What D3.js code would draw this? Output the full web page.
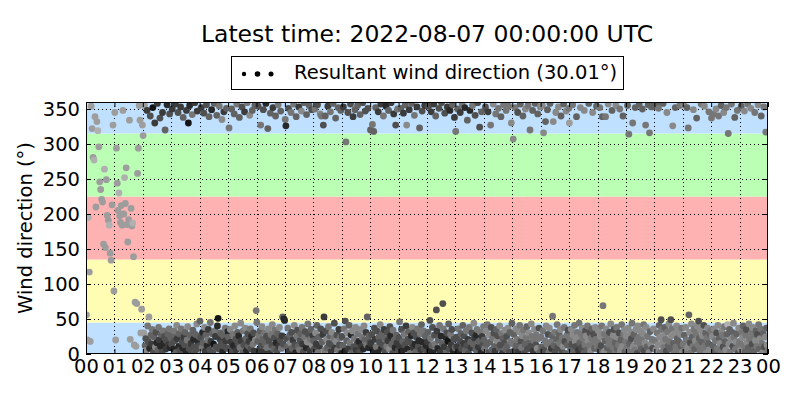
<!DOCTYPE html>
<html><head><meta charset="utf-8">
<script src="https://cdn.jsdelivr.net/npm/d3@7"></script>
<style>body{margin:0;background:#fff} svg{font-family:"DejaVu Sans",sans-serif}</style>
</head><body><svg id="c" width="800" height="400"></svg>
<script>
const titleText = "Latest time: 2022-08-07 00:00:00 UTC";
const legendLabel = "Resultant wind direction (30.01°)";
const yLabel = "Wind direction (°)";
const hourTicks = d3.range(0, 25);
const hourLabels = ["00","01","02","03","04","05","06","07","08","09","10","11","12","13","14","15","16","17","18","19","20","21","22","23","00"];
const yTicks = [0, 50, 100, 150, 200, 250, 300, 350];
const bandEdges = [0, 45, 135, 225, 315, 360];

// wind direction samples per hour (evenly spaced in time within each hour)
const dirByHour = [
[56,20,195,117,18,354,322,281,277,339,210,332,319,296,246,235,221,217,157,264,152,249,198,191,184,144,134,213,327,90],
[345,20,294,244,205,230,197,188,212,184,348,200,252,215,266,185,160,192,334,21,208,183,187,139,13,74,11,72,258,294,355,334,30,64,327],
[312,30,355,12,22,5,348,40,18,53,8,340,27,14,35,352,3,24,330,10,31,16,358,6,38,20,337,11,28,2,345,33,15,25,320,7,19,356,29,13,36,343,9,23],
[14,350,26,7,33,19,357,2,41,22,345,11,29,5,353,36,17,9,338,24,13,31,4,348,20,39,330,8,355,27,15,1,342,34,21,10,359,28,6,43,347,18,25,12],
[47,23,352,9,31,16,344,38,4,27,356,12,20,35,339,6,45,18,349,29,2,14,358,33,25,10,341,40,51,7,354,21,30,15,335,3,26,346,11,37,19,351,8,32],
[24,323,8,35,17,350,3,28,12,343,40,21,6,357,31,15,26,338,9,44,19,353,2,33,13,346,37,22,5,359,29,11,18,341,36,7,25,348,14,30,4,355,20,62],
[45,18,354,27,6,33,327,12,39,21,349,3,30,15,358,25,9,322,36,19,1,344,28,13,42,352,7,23,34,340,16,4,29,356,11,38,20,347,8,26,53,14,50,48],
[335,326,22,10,37,351,4,27,16,345,31,8,20,357,41,13,2,339,25,34,11,353,6,19,29,347,38,14,3,359,24,32,9,342,17,43,28,355,5,21,35,349,12,26],
[19,7,350,30,14,41,356,2,24,11,343,36,340,17,28,327,53,5,340,33,21,9,354,39,15,26,346,3,31,12,358,22,44,8,337,18,27,6,352,35,13,23,348,1],
[25,12,353,36,4,47,303,19,30,345,8,41,16,357,27,2,33,339,10,22,349,38,6,14,355,29,18,3,342,35,11,24,359,7,40,20,347,31,13,53,351,9,26,17],
[320,15,28,328,6,318,37,21,352,10,33,2,346,24,17,42,357,8,29,13,340,35,4,22,354,11,31,19,348,7,39,26,359,14,1,34,343,20,9,327,27,16,350,5],
[23,46,10,351,35,4,18,344,28,13,356,40,327,7,21,32,349,1,16,26,358,38,9,30,341,14,3,24,353,36,11,19,323,29,6,42,347,17,33,8,355,25,12,2],
[17,31,354,5,48,22,346,12,38,2,357,27,14,340,63,33,8,20,351,41,3,26,359,15,72,36,10,344,24,1,30,353,18,43,7,348,28,13,35,356,4,21,338,9],
[318,24,11,350,36,3,19,345,29,8,357,41,15,26,352,5,33,12,334,21,1,38,348,17,9,30,355,14,44,23,341,6,27,35,359,10,18,324,31,2,346,25,13,39],
[20,8,353,33,14,42,346,2,27,17,327,38,6,23,357,30,11,4,343,35,19,26,351,9,40,13,339,29,1,22,356,16,34,7,348,25,12,37,354,3,31,18,330,44],
[15,307,28,5,352,36,12,21,345,3,32,41,357,18,9,26,340,34,1,14,350,23,39,7,355,30,16,320,11,43,25,348,4,19,35,358,13,27,8,343,22,37,2,353],
[24,10,355,33,316,6,19,332,40,14,349,28,2,37,358,17,8,26,54,332,12,31,3,345,21,42,9,353,29,15,35,340,5,23,11,357,38,18,1,347,27,13,34,351],
[330,20,7,35,14,356,27,3,41,18,11,339,31,24,5,44,16,352,29,9,37,22,1,348,13,33,26,6,40,19,358,12,30,4,23,36,345,15,28,8,38,21,354,10],
[17,33,6,352,25,12,40,339,69,2,29,19,339,36,9,23,357,14,31,4,43,21,348,10,27,35,1,16,355,38,8,24,13,30,350,5,20,42,11,340,28,34,3,18],
[26,9,355,37,314,15,3,31,22,44,330,11,28,6,352,35,18,1,40,24,357,13,33,7,20,350,29,42,4,16,327,38,10,25,356,2,316,32,14,353,21,8,36,358],
[354,19,6,357,30,13,351,41,24,2,49,35,16,358,9,27,38,21,4,345,32,12,43,18,7,49,26,36,326,15,1,29,352,10,40,22,5,33,17,355,28,11,37,3],
[14,356,27,5,38,20,352,9,323,56,31,16,2,43,24,11,349,35,7,19,29,337,40,13,47,22,4,34,357,17,26,8,41,354,12,30,1,23,37,15,346,6,28,33],
[337,25,12,343,36,4,19,350,30,8,41,340,22,15,2,355,33,27,10,345,39,18,6,352,28,42,315,14,35,3,21,357,31,11,44,24,338,7,17,29,348,1,37,13],
[18,6,354,31,23,40,12,347,3,27,35,16,357,9,43,21,1,351,30,14,38,25,5,345,19,33,11,28,356,42,7,22,36,340,15,2,29,353,10,24,317,37,13,4]
];

// wind speed level per sample (drives the gray shade)
const spdByHour = [
[2,2,1,2,2,2,2,2,1,2,2,2,1,2,2,2,2,2,2,1,2,2,2,2,1,2,2,2,2,2],
[2,2,2,2,2,1,2,2,2,2,2,2,1,2,2,2,2,2,2,2,2,2,1,2,2,2,2,2,2,2,2,2,2,2,2],
[2,2,2,5,6,3,7,4,6,2,8,6,5,7,4,9,6,5,7,3,6,8,7,5,4,7,6,8,5,6,7,4,8,6,5,7,6,8,5,7,4,6,8,5],
[6,7,5,8,4,6,7,5,3,7,6,8,5,6,7,4,6,8,5,7,6,5,8,7,4,3,9,6,8,5,7,6,4,5,8,6,7,5,6,3,7,8,5,6],
[5,6,7,4,8,5,6,3,7,5,6,8,4,7,5,6,4,7,8,5,6,9,5,4,7,6,5,8,9,6,4,7,5,6,3,8,5,7,6,4,7,5,6,8],
[5,4,6,3,7,5,6,4,8,5,3,6,7,4,5,6,8,5,4,3,7,6,5,4,6,7,3,5,8,4,6,5,7,3,4,6,8,5,4,6,7,5,3,4],
[4,5,6,4,7,5,4,6,3,5,6,7,4,5,8,6,4,5,3,6,7,5,4,6,3,7,5,6,4,5,8,6,5,4,7,3,6,5,4,7,5,6,8,8],
[4,8,6,5,4,6,7,5,3,4,6,5,7,4,3,6,8,5,4,6,5,7,4,6,5,3,4,7,6,5,4,6,8,5,3,4,6,5,7,4,5,6,3,7],
[5,6,4,3,7,5,6,4,5,7,3,6,4,5,7,6,7,4,5,6,3,5,7,4,6,5,4,7,3,6,5,4,6,7,5,3,6,4,5,7,6,4,5,8],
[6,5,7,4,8,6,4,5,3,6,7,5,4,6,8,5,3,7,6,4,5,3,7,6,5,4,8,6,5,3,7,4,6,8,3,5,6,7,4,5,6,8,5,6],
[5,7,6,4,8,5,6,7,5,4,6,8,7,5,6,3,7,8,5,6,4,7,6,5,8,4,6,7,5,3,6,8,7,5,6,4,7,5,8,6,5,7,4,6],
[6,4,7,5,6,8,5,7,4,6,5,7,3,8,6,5,7,4,6,8,5,3,7,6,4,8,5,6,7,4,6,8,5,4,7,5,6,8,4,6,7,5,8,6],
[7,5,6,8,6,4,7,5,6,8,7,6,4,5,6,7,8,5,6,4,7,8,6,5,6,4,7,6,8,5,6,7,9,5,6,8,4,7,6,5,8,6,7,5],
[4,6,7,5,4,8,6,7,5,6,4,5,7,6,8,5,4,6,5,7,6,4,8,5,7,6,4,5,3,7,6,5,8,4,6,7,5,6,4,8,5,7,6,4],
[5,4,6,3,5,4,7,6,3,5,4,6,5,4,3,6,5,7,4,5,3,6,4,5,3,6,5,4,7,5,4,6,3,5,4,6,5,3,4,6,5,4,3,5],
[4,3,5,6,4,3,5,4,6,7,3,4,5,6,4,3,5,4,6,5,3,4,5,6,4,3,5,4,6,3,4,5,7,4,3,5,6,4,3,5,4,6,5,3],
[4,5,3,4,3,6,4,5,3,4,5,6,4,3,5,4,7,5,4,3,5,4,6,3,5,4,6,3,5,4,3,5,6,4,3,5,4,6,5,3,4,5,6,4],
[2,4,5,3,6,4,3,5,4,3,6,5,4,3,7,4,5,3,4,6,3,4,5,3,4,6,3,5,4,3,5,4,6,3,4,5,3,4,6,5,3,4,5,4],
[4,3,5,4,3,6,4,5,4,3,4,5,4,3,5,4,3,4,6,5,3,4,5,4,3,6,4,5,3,4,5,3,4,6,4,3,5,4,3,5,4,3,5,4],
[3,4,5,3,4,5,4,3,6,4,4,3,5,4,5,3,4,6,3,4,5,4,3,5,4,5,3,4,6,3,4,3,5,4,5,3,4,5,3,5,4,6,3,5],
[5,4,3,5,4,3,4,5,3,4,6,4,3,5,4,3,5,4,6,3,4,5,3,4,5,6,3,4,3,5,4,3,5,4,3,5,4,3,5,4,3,5,4,3],
[4,3,5,4,3,4,5,3,4,5,3,6,4,3,5,4,3,4,5,3,4,5,3,4,6,5,4,3,4,5,3,4,6,3,4,5,3,4,3,5,4,3,5,4],
[4,3,5,4,3,5,4,3,6,4,3,4,5,3,4,5,3,4,6,3,4,5,3,4,5,1,4,3,5,4,3,4,5,6,3,4,5,4,3,5,4,6,3,4],
[4,3,5,4,3,5,4,3,5,4,6,3,4,5,3,4,5,3,4,6,3,4,5,4,3,5,4,6,3,4,5,3,4,5,4,3,5,4,6,3,4,5,3,4]
];

const svg = d3.select("#c");
const L = 86, R = 768, T = 102, B = 354;
const x = d3.scaleLinear().domain([0, 24]).range([L, R]);
const y = d3.scaleLinear().domain([0, 360]).range([B, T]);
const bandColors = ["#bfe0ff", "#fffcb4", "#ffb2b2", "#baffb4", "#bfe0ff"];
const shade = d3.scaleLinear().domain([1, 9]).range(["#b0b0b0", "#141414"]);

// bands
svg.append("g").selectAll("rect").data(d3.range(bandEdges.length - 1)).join("rect")
  .attr("x", L).attr("width", R - L)
  .attr("y", i => y(bandEdges[i + 1])).attr("height", i => y(bandEdges[i]) - y(bandEdges[i + 1]))
  .attr("fill", i => bandColors[i]);

// grid
const grid = svg.append("g").attr("stroke", "#000").attr("stroke-width", 1).attr("stroke-dasharray", "1,3");
grid.selectAll(".gx").data(hourTicks.slice(1, -1)).join("line")
  .attr("x1", d => Math.round(x(d)) + 0.5).attr("x2", d => Math.round(x(d)) + 0.5).attr("y1", T).attr("y2", B);
grid.selectAll(".gy").data(yTicks.slice(1)).join("line")
  .attr("y1", d => Math.round(y(d)) + 0.5).attr("y2", d => Math.round(y(d)) + 0.5).attr("x1", L).attr("x2", R);

// points
const pts = [];
dirByHour.forEach((arr, h) => {
  const n = arr.length;
  arr.forEach((d, i) => pts.push({ t: h + (i + 0.5) / n, d: d, s: (spdByHour[h][i] ?? 4) }));
});
svg.append("clipPath").attr("id", "clip").append("rect").attr("x", L).attr("y", T).attr("width", R - L).attr("height", B - T);
svg.append("g").attr("clip-path", "url(#clip)").selectAll("circle").data(pts).join("circle")
  .attr("cx", p => x(p.t)).attr("cy", p => y(p.d)).attr("r", 3.4)
  .attr("fill", p => shade(p.s));

// frame
svg.append("rect").attr("x", L + 0.5).attr("y", T + 0.5).attr("width", R - L - 1).attr("height", B - T - 1)
  .attr("fill", "none").attr("stroke", "#000").attr("stroke-width", 1);

// axes
const fs = "19.5px";
const ax = svg.append("g").attr("transform", `translate(0,${B})`)
  .call(d3.axisBottom(x).tickValues(hourTicks).tickFormat((d, i) => hourLabels[i]).tickSize(-5).tickPadding(5));
const ay = svg.append("g").attr("transform", `translate(${L},0)`)
  .call(d3.axisLeft(y).tickValues(yTicks).tickSize(-5).tickPadding(6));
const at = svg.append("g").attr("transform", `translate(0,${T})`)
  .call(d3.axisTop(x).tickValues(hourTicks).tickFormat("").tickSize(-5));
const ar = svg.append("g").attr("transform", `translate(${R},0)`)
  .call(d3.axisRight(y).tickValues(yTicks).tickFormat("").tickSize(-5));
[ax, ay, at, ar].forEach(g => {
  g.select(".domain").remove();
  g.selectAll("text").attr("font-size", fs).attr("font-family", "DejaVu Sans").attr("fill", "#000");
  g.selectAll("line").attr("stroke", "#000");
});

// y label
svg.append("text").attr("transform", `translate(32,${(T + B) / 2}) rotate(-90)`)
  .attr("text-anchor", "middle").attr("font-size", "19.5px").text(yLabel);

// title
svg.append("text").attr("x", (L + R) / 2).attr("y", 42).attr("text-anchor", "middle")
  .attr("font-size", "23.5px").text(titleText);

// legend
const lg = svg.append("g");
lg.append("rect").attr("x", 231.5).attr("y", 56.5).attr("width", 392).attr("height", 33)
  .attr("fill", "#fff").attr("stroke", "#000");
const legendDots = [2.2, 2.8, 2.5];
lg.selectAll("circle").data(legendDots).join("circle")
  .attr("cx", (r, i) => 244 + i * 13.5).attr("cy", 74).attr("r", r => r).attr("fill", "#000");
lg.append("text").attr("x", 294).attr("y", 79).attr("font-size", "19.5px").text(legendLabel);
</script></body></html>
